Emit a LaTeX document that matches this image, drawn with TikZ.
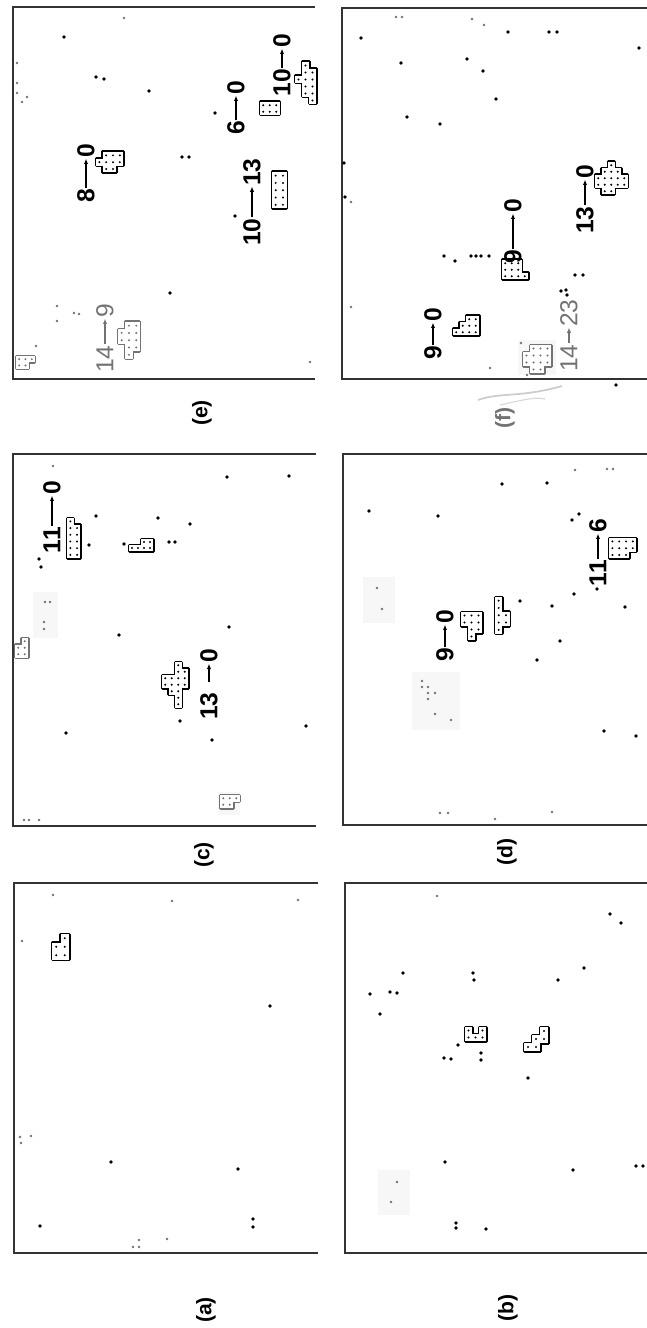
\documentclass[tikz,border=0pt]{standalone}
\usepackage{fontspec}
\setmainfont{Liberation Sans}
\usetikzlibrary{arrows.meta}

\tikzset{
  panelframe/.style={line width=0.8mm, black!80},
  num/.style={inner sep=0.5pt, rotate=90, font=\fontsize{21}{24}\selectfont\bfseries},
  faint/.style={text=black!55, font=\fontsize{21}{24}\selectfont},
  lbl/.style={rotate=90, font=\fontsize{18}{21}\selectfont\bfseries},
  flow/.style={-{Latex[length=1.6mm,width=1.3mm]}, line width=1.4pt},
  patch/.style={fill=black!3},
}

% cluster of cells: [colour]{top left corner}{cell size}{col/row list}
\newcommand{\clust}[4][black]{%
  \begin{scope}[shift={(#2)}]
    \foreach \c/\r in {#4}
      \draw[#1, line width=0.9mm, line join=round] (\c*#3,\r*#3) rectangle ++(#3,#3);
    \foreach \c/\r in {#4}
      \fill[white] (\c*#3,\r*#3) rectangle ++(#3,#3);
    \foreach \c/\r in {#4}
      \fill[#1] (\c*#3+#3/2,\r*#3+#3/2) circle (1.1);
  \end{scope}}

\begin{document}
\begin{tikzpicture}[x=0.3mm, y=-0.3mm]
    \useasboundingbox (0,0) rectangle (646,1328);

    % Light patches of the scan
    \fill[patch] (33,592) rectangle (58,638);
    \fill[patch] (218,792) rectangle (240,815);
    \fill[patch] (363,577) rectangle (395,623);
    \fill[patch] (412,672) rectangle (460,730);
    \fill[patch] (378,1170) rectangle (410,1215);
    \fill[patch] (518,340) rectangle (556,375);

    % Frames
    \draw[panelframe] (315,7) -- (13,7) -- (13,379) -- (315,379);
    \draw[panelframe] (650,8) -- (342,8) -- (342,379) -- (650,379);
    \draw[panelframe] (316,454) -- (13,454) -- (13,826) -- (316,826);
    \draw[panelframe] (650,454) -- (343,454) -- (343,825) -- (650,825);
    \draw[panelframe] (318,883) -- (14,883) -- (14,1253) -- (318,1253);
    \draw[panelframe] (650,883) -- (345,883) -- (345,1253) -- (650,1253);

    % Single sites
    \foreach \p in {(64,37),(96,77),(104,79),(149,91),(215,113),(182,157),(189,157),(235,216),(170,293),
                    (508,32),(549,32),(557,32),(639,48),(361,38),(401,63),(467,59),(483,71),(496,99),
                    (407,117),(440,124),(344,163),(345,197),(444,256),(455,261),(471,256),(476,256),
                    (481,256),(489,256),(575,275),(583,275),(561,291),(566,290),(567,295),(616,385),
                    (227,477),(289,476),(96,516),(158,518),(190,524),(89,545),(124,544),(169,542),
                    (175,542),(39,559),(41,567),(119,635),(229,627),(66,733),(180,721),(212,740),(306,726),
                    (502,484),(547,483),(369,511),(438,516),(572,520),(579,514),(520,601),(552,606),
                    (625,607),(560,641),(537,660),(597,589),(574,594),(604,731),(636,736),
                    (270,1006),(111,1162),(238,1169),(40,1226),(253,1219),(253,1227),
                    (610,914),(621,923),(403,973),(370,994),(390,992),(397,993),(380,1014),(473,973),
                    (474,980),(558,980),(584,968),(458,1045),(444,1058),(451,1059),(481,1053),(481,1060),
                    (528,1078),(445,1162),(573,1170),(636,1166),(643,1166),(456,1223),(456,1228),(486,1229)}
      \fill \p circle (1.8);
    \foreach \p in {(124,18),(17,63),(17,83),(17,93),(22,102),(27,97),(57,306),(57,321),(74,313),
                    (79,314),(36,346),(310,362),
                    (396,17),(402,17),(472,19),(484,25),(351,202),(351,307),(521,343),(490,368),(527,375),
                    (53,466),(45,602),(50,602),(44,622),(44,629),(24,820),(29,820),(39,820),
                    (575,470),(607,469),(613,469),(377,588),(382,609),(422,681),(422,687),(428,687),
                    (428,693),(435,693),(428,699),(435,714),(451,720),(440,813),(448,813),(495,819),(552,812),
                    (53,895),(172,901),(298,900),(22,941),(20,1137),(21,1143),(31,1136),(139,1240),
                    (133,1247),(139,1247),(167,1239),
                    (437,896),(397,1182),(391,1202)}
      \fill[black!55] \p circle (1.4);

    % Clusters (e)
    \clust{295,62}{7}{1/0,1/1,2/1,0/2,1/2,2/2,1/3,2/3,1/4,2/4,2/5}
    \clust{260,102}{6.5}{0/0,1/0,2/0,0/1,1/1,2/1}
    \clust{96,152}{6.8}{1/0,2/0,3/0,0/1,1/1,2/1,3/1,1/2,2/2}
    \clust{272,172}{7.3}{0/0,1/0,0/1,1/1,0/2,1/2,0/3,1/3,0/4,1/4}
    \clust[black!55]{118,322}{7.3}{1/0,2/0,0/1,1/1,2/1,0/2,1/2,2/2,1/3,2/3,1/4}
    \clust[black!55]{16,356}{6.3}{0/0,1/0,2/0,0/1,1/1}
    % Clusters (f)
    \clust{502,260}{6.5}{0/0,1/0,2/0,0/1,1/1,2/1,0/2,1/2,2/2,3/2}
    \clust{595,162}{6.5}{2/0,1/1,2/1,3/1,0/2,1/2,2/2,3/2,4/2,0/3,1/3,2/3,3/3,4/3,1/4,2/4}
    \clust{453,316}{6.5}{2/0,3/0,1/1,2/1,3/1,0/2,1/2,2/2,3/2}
    \clust[black!55]{523,345}{7}{1/0,2/0,3/0,0/1,1/1,2/1,3/1,0/2,1/2,2/2,3/2,1/3,2/3}
    % Clusters (c)
    \clust{67,518}{6.7}{0/0,0/1,1/1,0/2,1/2,0/3,1/3,0/4,1/4,0/5,1/5}
    \clust{129,539}{6}{2/0,3/0,0/1,1/1,2/1,3/1}
    \clust{162,662}{6.5}{2/0,2/1,3/1,0/2,1/2,2/2,3/2,0/3,1/3,2/3,3/3,1/4,2/4,2/5,2/6}
    \clust[black!55]{15,638}{6.5}{1/0,0/1,1/1,0/2,1/2}
    \clust[black!55]{220,795}{6.5}{0/0,1/0,2/0,0/1,1/1}
    % Clusters (d)
    \clust{461,612}{7}{0/0,1/0,2/0,0/1,1/1,2/1,1/2,2/2,1/3}
    \clust{495,597}{7.3}{0/0,0/1,0/2,1/2,0/3,1/3,0/4}
    \clust{609,538}{6.8}{0/0,1/0,2/0,3/0,0/1,1/1,2/1,3/1,0/2,1/2,2/2}
    % Clusters (a) and (b)
    \clust{52,934}{8.5}{1/0,0/1,1/1,0/2,1/2}
    \clust{465,1027}{7}{0/0,2/0,0/1,1/1,2/1}
    \clust{524,1027}{8}{2/0,1/1,2/1,0/2,1/2}

    % Sizes (e)
    \node[num] (e1s) at (86,196) {8};
    \node[num] (e1t) at (86,151) {0};
    \node[num] (e2s) at (236,128) {6};
    \node[num] (e2t) at (236,88) {0};
    \node[num] (e3s) at (282,83) {10};
    \node[num] (e3t) at (282,41) {0};
    \node[num] (e4s) at (252,232) {10};
    \node[num] (e4t) at (252,172) {13};
    \node[num, faint] (e5s) at (105,359) {14};
    \node[num, faint] (e5t) at (105,311) {9};
    \draw[flow] (e1s) -- (e1t);
    \draw[flow] (e2s) -- (e2t);
    \draw[flow] (e3s) -- (e3t);
    \draw[flow] (e4s) -- (e4t);
    \draw[flow, black!55] (e5s) -- (e5t);

    % Sizes (f)
    \node[num] (f1s) at (513,257) {9};
    \node[num] (f1t) at (513,206) {0};
    \node[num] (f2s) at (585,220) {13};
    \node[num] (f2t) at (585,172) {0};
    \node[num] (f3s) at (433,353) {9};
    \node[num] (f3t) at (433,315) {0};
    \node[num, faint] (f4s) at (569,358) {14};
    \node[num, faint] (f4t) at (569,313) {23};
    \draw[flow] (f1s) -- (f1t);
    \draw[flow] (f2s) -- (f2t);
    \draw[flow] (f3s) -- (f3t);
    \draw[flow, black!55] (f4s) -- (f4t);

    % Sizes (c)
    \node[num] (c1s) at (52,540) {11};
    \node[num] (c1t) at (52,488) {0};
    \node[num] (c2s) at (209,706) {13};
    \node[num] (c2t) at (209,656) {0};
    \draw[flow] (c1s) -- (c1t);
    \draw[flow, shorten <=3mm] (c2s) -- (c2t);

    % Sizes (d)
    \node[num] (d1s) at (445,655) {9};
    \node[num] (d1t) at (445,617) {0};
    \node[num] (d2s) at (598,573) {11};
    \node[num] (d2t) at (598,526) {6};
    \draw[flow] (d1s) -- (d1t);
    \draw[flow] (d2s) -- (d2t);

    % Panel labels
    \node[lbl] (la) at (206,1310) {(a)};
    \node[lbl] (lb) at (508,1308) {(b)};
    \node[lbl] (lc) at (204,855) {(c)};
    \node[lbl] (ld) at (507,852) {(d)};
    \node[lbl] (le) at (202,413) {(e)};
    \node[lbl, text=black!55] (lf) at (505,418) {(f)};

    % Smudge near (f)
    \draw[black!20, line width=1.5pt] (478,400) .. controls (500,392) and (520,398) .. (562,386);
    \draw[black!15, line width=1pt] (500,405) .. controls (515,402) and (535,396) .. (545,399);
\end{tikzpicture}
\end{document}
